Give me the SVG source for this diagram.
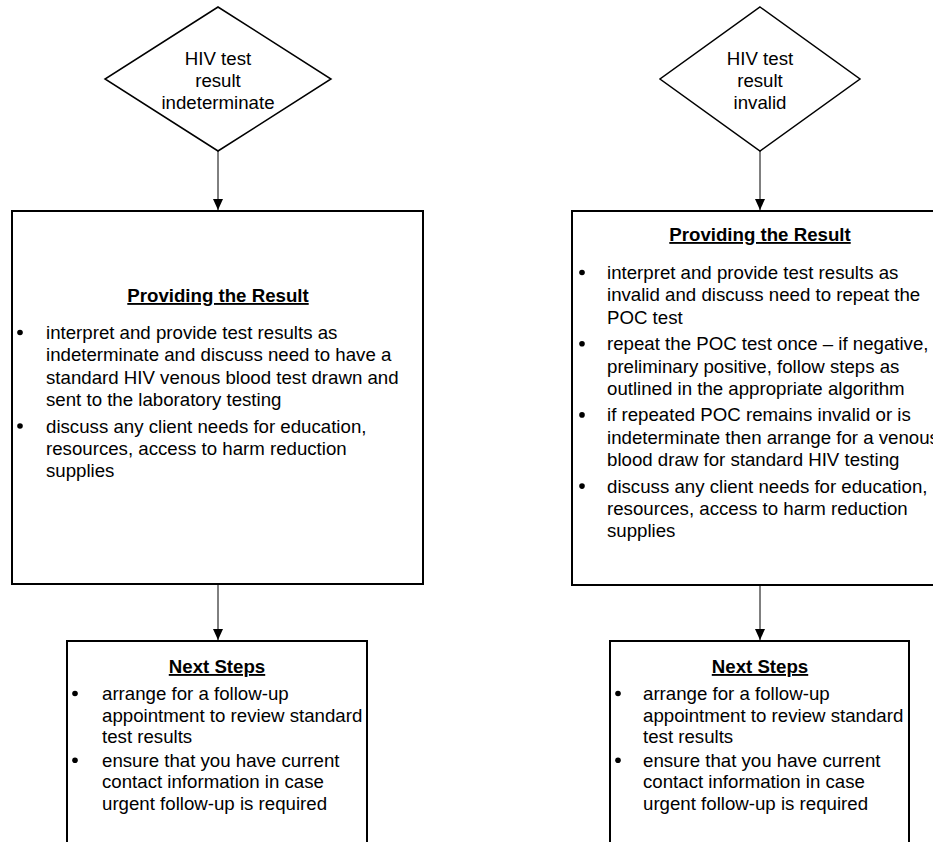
<svg xmlns="http://www.w3.org/2000/svg" width="933" height="842" viewBox="0 0 933 842">
<style>
.t{font-family:"Liberation Sans",Arial,sans-serif;font-size:18.67px;fill:#000}
.c{text-anchor:middle}
.h{font-weight:bold;text-decoration:underline;text-anchor:middle}
.box{fill:#fff;stroke:#000;stroke-width:2}
.dia{fill:#fff;stroke:#000;stroke-width:1.5}
.conn{stroke:#000;stroke-width:1;fill:none}
.dot{fill:#000}
</style>
<defs>
<marker id="arr" viewBox="0 0 11 10" refX="11" refY="5" markerWidth="11" markerHeight="10" orient="auto" markerUnits="userSpaceOnUse">
<path d="M0,0 L11,5 L0,10 z" fill="#000"/>
</marker>
</defs>
<rect width="933" height="842" fill="#fff"/>
<g id="connectors">
<line class="conn" x1="218" y1="151" x2="218" y2="210" marker-end="url(#arr)"/>
<line class="conn" x1="218" y1="585" x2="218" y2="640" marker-end="url(#arr)"/>
<line class="conn" x1="760" y1="151" x2="760" y2="210" marker-end="url(#arr)"/>
<line class="conn" x1="760" y1="586" x2="760" y2="640" marker-end="url(#arr)"/>
</g>
<g id="dec-indeterminate">
<polygon class="dia" points="218,7 331,79 218,151 105,79"/>
<text class="t c"><tspan x="218" y="65">HIV test</tspan><tspan x="218" y="87">result</tspan><tspan x="218" y="108.5">indeterminate</tspan></text>
</g>
<g id="dec-invalid">
<polygon class="dia" points="760,7 860,79 760,151 660,79"/>
<text class="t c"><tspan x="760" y="65">HIV test</tspan><tspan x="760" y="87">result</tspan><tspan x="760" y="108.5">invalid</tspan></text>
</g>
<g id="provide-indeterminate">
<rect class="box" x="12" y="211" width="411" height="373"/>
<text class="t h" x="218" y="302">Providing the Result</text>
<circle class="dot" cx="20" cy="332.5" r="2.8"/>
<circle class="dot" cx="20" cy="426" r="2.8"/>
<text class="t"><tspan x="46" y="339">interpret and provide test results as</tspan><tspan x="46" y="361.4">indeterminate and discuss need to have a</tspan><tspan x="46" y="383.8">standard HIV venous blood test drawn and</tspan><tspan x="46" y="406.2">sent to the laboratory testing</tspan><tspan x="46" y="432.6">discuss any client needs for education,</tspan><tspan x="46" y="455">resources, access to harm reduction</tspan><tspan x="46" y="477.4">supplies</tspan></text>
</g>
<g id="provide-invalid">
<rect class="box" x="572" y="211" width="376" height="374"/>
<text class="t h" x="760" y="241">Providing the Result</text>
<circle class="dot" cx="582" cy="272.5" r="2.8"/>
<circle class="dot" cx="582" cy="343.7" r="2.8"/>
<circle class="dot" cx="582" cy="414.9" r="2.8"/>
<circle class="dot" cx="582" cy="486.1" r="2.8"/>
<text class="t"><tspan x="607" y="279">interpret and provide test results as</tspan><tspan x="607" y="301.4">invalid and discuss need to repeat the</tspan><tspan x="607" y="323.8">POC test</tspan><tspan x="607" y="350.2">repeat the POC test once – if negative,</tspan><tspan x="607" y="372.6">preliminary positive, follow steps as</tspan><tspan x="607" y="395">outlined in the appropriate algorithm</tspan><tspan x="607" y="421.4">if repeated POC remains invalid or is</tspan><tspan x="607" y="443.8">indeterminate then arrange for a venous</tspan><tspan x="607" y="466.2">blood draw for standard HIV testing</tspan><tspan x="607" y="492.6">discuss any client needs for education,</tspan><tspan x="607" y="515">resources, access to harm reduction</tspan><tspan x="607" y="537.4">supplies</tspan></text>
</g>
<g id="next-indeterminate">
<rect class="box" x="67" y="641" width="300" height="220"/>
<text class="t h" x="217" y="673">Next Steps</text>
<circle class="dot" cx="75" cy="693.5" r="2.8"/>
<circle class="dot" cx="75" cy="760.2" r="2.8"/>
<text class="t"><tspan x="102" y="700">arrange for a follow-up</tspan><tspan x="102" y="721.7">appointment to review standard</tspan><tspan x="102" y="743.4">test results</tspan><tspan x="102" y="766.7">ensure that you have current</tspan><tspan x="102" y="788.4">contact information in case</tspan><tspan x="102" y="810.1">urgent follow-up is required</tspan></text>
</g>
<g id="next-invalid">
<rect class="box" x="610" y="641" width="299" height="220"/>
<text class="t h" x="760" y="673">Next Steps</text>
<circle class="dot" cx="618" cy="693.5" r="2.8"/>
<circle class="dot" cx="618" cy="760.2" r="2.8"/>
<text class="t"><tspan x="643" y="700">arrange for a follow-up</tspan><tspan x="643" y="721.7">appointment to review standard</tspan><tspan x="643" y="743.4">test results</tspan><tspan x="643" y="766.7">ensure that you have current</tspan><tspan x="643" y="788.4">contact information in case</tspan><tspan x="643" y="810.1">urgent follow-up is required</tspan></text>
</g>
</svg>
